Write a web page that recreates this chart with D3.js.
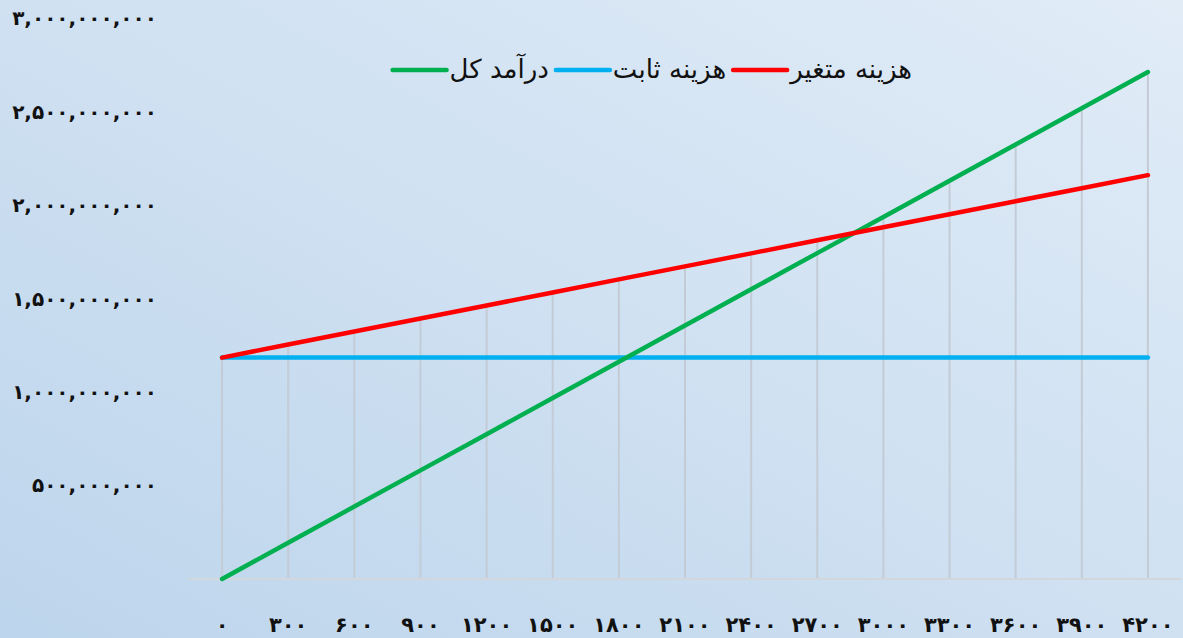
<!DOCTYPE html>
<html>
<head>
<meta charset="utf-8">
<script src="https://cdn.jsdelivr.net/npm/d3@7"></script>
<style>
  html, body { margin: 0; padding: 0; }
  body { width: 1183px; height: 638px; overflow: hidden; }
  text { font-family: "DejaVu Sans", sans-serif; }
</style>
</head>
<body>
<div id="chart-area"></div>
<script>
const WIDTH = 1183
const HEIGHT = 638
const MARGIN = { LEFT: 189, RIGHT: 2, TOP: 18.5, BOTTOM: 59 }

// units sold (category axis)
const units = [0, 300, 600, 900, 1200, 1500, 1800, 2100, 2400, 2700, 3000, 3300, 3600, 3900, 4200]

// total cost (fixed + variable)
const variableCost = [1185000000, 1254750000, 1324500000, 1394250000, 1464000000, 1533750000, 1603500000,
  1673250000, 1743000000, 1812750000, 1882500000, 1952250000, 2022000000, 2091750000, 2161500000]

const fixedCost = [1185000000, 1185000000, 1185000000, 1185000000, 1185000000, 1185000000, 1185000000,
  1185000000, 1185000000, 1185000000, 1185000000, 1185000000, 1185000000, 1185000000, 1185000000]

const revenue = [0, 193800000, 387600000, 581400000, 775200000, 969000000, 1162800000, 1356600000,
  1550400000, 1744200000, 1938000000, 2131800000, 2325600000, 2519400000, 2713200000]

const yTicks = [500000000, 1000000000, 1500000000, 2000000000, 2500000000, 3000000000]

const seriesNames = ["هزینه متغیر", "هزینه ثابت", "درآمد کل"]
const seriesColors = ["#ff0000", "#00b0f0", "#00b050"]
const seriesValues = [variableCost, fixedCost, revenue]

const faDigits = "۰۱۲۳۴۵۶۷۸۹"
const toFa = s => String(s).replace(/[0-9]/g, c => faDigits[+c])

const svg = d3.select("#chart-area").append("svg")
  .attr("width", WIDTH)
  .attr("height", HEIGHT)

// background gradient
const defs = svg.append("defs")
const grad = defs.append("linearGradient")
  .attr("id", "bg")
  .attr("x1", "0%").attr("y1", "100%")
  .attr("x2", "100%").attr("y2", "0%")
grad.append("stop").attr("offset", "0%").attr("stop-color", "#bdd5ec")
grad.append("stop").attr("offset", "100%").attr("stop-color", "#e1ecf7")

svg.append("rect")
  .attr("width", WIDTH)
  .attr("height", HEIGHT)
  .attr("fill", "url(#bg)")

const x = d3.scaleBand()
  .domain(units)
  .range([MARGIN.LEFT, WIDTH - MARGIN.RIGHT])

const y = d3.scaleLinear()
  .domain([0, 3000000000])
  .range([HEIGHT - MARGIN.BOTTOM, MARGIN.TOP])

const cx = d => x(d) + x.bandwidth() / 2

// drop lines: from highest point in each category down to the axis
svg.append("g")
  .selectAll("line")
  .data(units)
  .join("line")
    .attr("x1", d => cx(d))
    .attr("x2", d => cx(d))
    .attr("y1", y(0))
    .attr("y2", (d, i) => y(d3.max(seriesValues, s => s[i])))
    .attr("stroke", "#c3ccd6")
    .attr("stroke-width", 2)

// category axis line
svg.append("line")
  .attr("x1", x.range()[0])
  .attr("x2", x.range()[1])
  .attr("y1", y(0))
  .attr("y2", y(0))
  .attr("stroke", "#d3d6da")
  .attr("stroke-width", 2)

// x labels
const xAxisCall = d3.axisBottom(x)
  .tickSize(0)
  .tickPadding(38)
  .tickFormat(d => toFa(d))
const xAxisGroup = svg.append("g")
  .attr("transform", `translate(0, ${y(0)})`)
  .call(xAxisCall)
xAxisGroup.select(".domain").remove()
xAxisGroup.selectAll("text")
  .attr("font-family", "DejaVu Sans")
  .attr("font-size", "21px")
  .attr("font-weight", "bold")
  .attr("letter-spacing", "2px")
  .attr("fill", "#111")

// y labels
const yAxisCall = d3.axisLeft(y)
  .tickValues(yTicks)
  .tickSize(0)
  .tickPadding(32)
  .tickFormat(d => toFa(d3.format(",")(d)))
const yAxisGroup = svg.append("g")
  .attr("transform", `translate(${MARGIN.LEFT}, 0)`)
  .call(yAxisCall)
yAxisGroup.select(".domain").remove()
yAxisGroup.selectAll("text")
  .attr("font-family", "DejaVu Sans")
  .attr("font-size", "20px")
  .attr("font-weight", "bold")
  .attr("letter-spacing", "0.5px")
  .attr("fill", "#111")

// series lines, drawn so the red one sits on top
const line = d3.line()
  .x((d, i) => cx(units[i]))
  .y(d => y(d))

const drawOrder = [1, 2, 0]
svg.append("g")
  .selectAll("path")
  .data(drawOrder)
  .join("path")
    .attr("d", i => line(seriesValues[i]))
    .attr("fill", "none")
    .attr("stroke", i => seriesColors[i])
    .attr("stroke-width", 4.5)
    .attr("stroke-linecap", "round")
    .attr("stroke-linejoin", "round")

// legend, laid out right to left
const legend = svg.append("g")
let lx = 912
const ly = 69
seriesNames.forEach((name, i) => {
  const t = legend.append("text")
    .attr("x", lx)
    .attr("y", ly)
    .attr("dy", "0.35em")
    .attr("text-anchor", "start")
    .attr("direction", "rtl")
    .attr("font-family", "DejaVu Sans")
    .attr("font-size", "26px")
    .attr("fill", "#111")
    .text(name)
  const w = t.node().getComputedTextLength()
  lx -= w + 3
  legend.append("line")
    .attr("x1", lx)
    .attr("x2", lx - 54)
    .attr("y1", ly + 1)
    .attr("y2", ly + 1)
    .attr("stroke", seriesColors[i])
    .attr("stroke-width", 4.5)
    .attr("stroke-linecap", "round")
  lx -= 54 + 7
})
</script>
</body>
</html>
